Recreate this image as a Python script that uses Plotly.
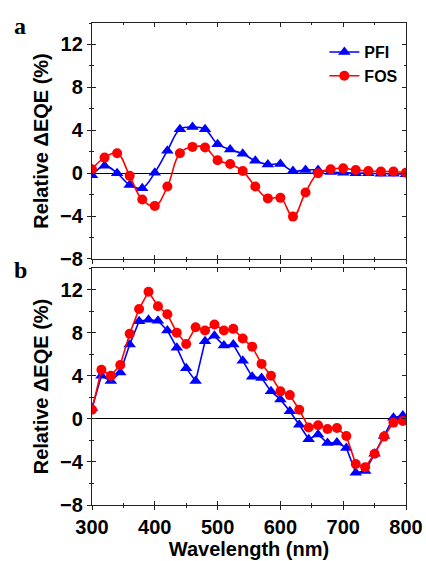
import plotly.graph_objects as go

# ---------------- data ----------------
wl_a = [300, 320, 340, 360, 380, 400, 420, 440, 460, 480, 500, 520, 540,
        560, 580, 600, 620, 640, 660, 680, 700, 720, 740, 760, 780, 800]
pfi_a = [-0.2, 0.7, 0.0, -1.1, -1.4, 0.05, 2.1, 4.1, 4.3, 4.1, 2.7, 2.2, 1.8,
         1.15, 0.8, 0.85, 0.2, 0.3, 0.3, 0.1, 0.05, 0.0, 0.0, -0.05, -0.05, -0.1]
fos_a = [0.37, 1.45, 1.85, -0.25, -2.45, -3.05, -1.25, 1.85, 2.45, 2.4, 1.2, 0.85, 0.2,
         -1.25, -2.35, -2.3, -4.05, -1.8, 0.0, 0.37, 0.45, 0.3, 0.2, 0.15, 0.15, 0.05]

wl_b = [300, 315, 330, 345, 360, 375, 390, 405, 420, 435, 450, 465, 480, 495, 510,
        525, 540, 555, 570, 585, 600, 615, 630, 645, 660, 675, 690, 705, 720, 735,
        750, 765, 780, 795]
pfi_b = [1.0, 4.0, 3.5, 4.3, 6.9, 9.05, 9.2, 9.1, 8.2, 6.6, 4.7, 3.5, 7.2, 7.7, 6.8,
         6.9, 5.4, 3.9, 3.8, 2.55, 1.8, 0.7, -0.55, -1.9, -1.45, -2.25, -2.2, -2.7, -5.0, -4.85,
         -3.25, -1.6, 0.1, 0.3]
fos_b = [0.84, 4.55, 4.0, 5.0, 7.9, 10.2, 11.8, 10.45, 9.7, 8.0, 6.95, 8.5, 8.2, 8.75, 8.2,
         8.35, 7.45, 6.7, 5.1, 4.0, 2.55, 2.2, 0.84, -0.8, -0.6, -0.95, -0.85, -1.6, -4.2, -4.5,
         -3.25, -1.65, -0.35, -0.2]

y_ticks = [-8, -4, 0, 4, 8, 12]
x_ticks = [300, 400, 500, 600, 700, 800]
series_names = ["PFI", "FOS"]
BLUE = "#0000FF"
RED = "#FF0000"

FONT = "Liberation Sans, Arial, sans-serif"

fig = go.Figure()

# panel a
fig.add_trace(go.Scatter(x=wl_a, y=pfi_a, name=series_names[0], mode="lines+markers",
                         line=dict(color=BLUE, width=1.6, shape="spline", smoothing=1.0),
                         marker=dict(symbol="triangle-up", size=11, color=BLUE),
                         xaxis="x", yaxis="y"))
fig.add_trace(go.Scatter(x=wl_a, y=fos_a, name=series_names[1], mode="lines+markers",
                         line=dict(color=RED, width=1.6, shape="spline", smoothing=1.2),
                         marker=dict(symbol="circle", size=10, color=RED),
                         xaxis="x", yaxis="y"))
# panel b
fig.add_trace(go.Scatter(x=wl_b, y=pfi_b, name=series_names[0], mode="lines+markers",
                         line=dict(color=BLUE, width=1.6),
                         marker=dict(symbol="triangle-up", size=11, color=BLUE),
                         xaxis="x2", yaxis="y2", showlegend=False))
fig.add_trace(go.Scatter(x=wl_b, y=fos_b, name=series_names[1], mode="lines+markers",
                         line=dict(color=RED, width=1.6),
                         marker=dict(symbol="circle", size=10, color=RED),
                         xaxis="x2", yaxis="y2", showlegend=False))
# dummy traces for overlay (inside-tick) axes
fig.add_trace(go.Scatter(x=[None], y=[None], xaxis="x3", yaxis="y3", showlegend=False, hoverinfo="skip"))
fig.add_trace(go.Scatter(x=[None], y=[None], xaxis="x4", yaxis="y4", showlegend=False, hoverinfo="skip"))

AX = "#222222"
tickfont = dict(family=FONT, size=20, color="black", weight="bold")
titlefont = dict(family=FONT, size=20, color="black", weight="bold")

def xax(domain_anchor, labels):
    return dict(range=[300, 800], tickmode="array", tickvals=x_ticks, automargin=False,
                showticklabels=labels, ticks="outside", ticklen=4, tickwidth=1.2, tickcolor=AX,
                minor=dict(dtick=50, ticks="outside", ticklen=2, tickwidth=1.2, tickcolor=AX),
                showline=True, linecolor=AX, linewidth=1.3, mirror=True,
                showgrid=False, zeroline=False, anchor=domain_anchor, tickfont=tickfont)

def yax(domain, anchor):
    return dict(range=[-8, 14], tickmode="array", tickvals=y_ticks, domain=domain, automargin=False,
                ticks="outside", ticklen=4, tickwidth=1.2, tickcolor=AX,
                minor=dict(dtick=2, ticks="outside", ticklen=2, tickwidth=1.2, tickcolor=AX),
                showline=True, linecolor=AX, linewidth=1.3, mirror=True,
                showgrid=False, zeroline=True, zerolinecolor="black", zerolinewidth=1.2,
                anchor=anchor, tickfont=tickfont,
                title=dict(text="Relative ΔEQE (%)", font=titlefont, standoff=6))

def x_in(over, anchor):
    return dict(range=[300, 800], tickmode="array", tickvals=x_ticks, overlaying=over,
                anchor=anchor, showticklabels=False, ticks="inside", ticklen=4, tickwidth=1.2,
                automargin=False,
                tickcolor=AX, minor=dict(dtick=50, ticks="inside", ticklen=2, tickwidth=1.2, tickcolor=AX),
                showline=False, mirror="ticks", showgrid=False, zeroline=False)

def y_in(over, anchor):
    return dict(range=[-8, 14], tickmode="array", tickvals=y_ticks, overlaying=over,
                anchor=anchor, showticklabels=False, ticks="inside", ticklen=4, tickwidth=1.2,
                automargin=False,
                tickcolor=AX, minor=dict(dtick=2, ticks="inside", ticklen=2, tickwidth=1.2, tickcolor=AX),
                showline=False, mirror="ticks", showgrid=False, zeroline=False)

dom_a = [0.5104, 1.0]
dom_b = [0.0, 0.4917]

xa = xax("y", False)
xb = xax("y2", True)
xb["title"] = dict(text="Wavelength (nm)", font=titlefont, standoff=4)

fig.update_layout(
    width=426, height=561,
    margin=dict(l=92, r=20, t=23, b=56, autoexpand=False),
    paper_bgcolor="white", plot_bgcolor="white",
    xaxis=xa, yaxis=yax(dom_a, "x"),
    xaxis2=xb, yaxis2=yax(dom_b, "x2"),
    xaxis3=x_in("x", "y3"), yaxis3=y_in("y", "x3"),
    xaxis4=x_in("x2", "y4"), yaxis4=y_in("y2", "x4"),
    legend=dict(x=0.74, y=0.975, xanchor="left", yanchor="top",
                font=dict(family=FONT, size=16, color="black", weight="bold"),
                bgcolor="rgba(0,0,0,0)", tracegroupgap=0, itemwidth=30),
    showlegend=True,
    annotations=[
        dict(text="a", x=-0.255, y=1.025, xref="paper", yref="paper", xanchor="left", yanchor="top",
             showarrow=False, font=dict(family="Liberation Serif, Times New Roman, serif", size=24,
                                        color="black", weight="bold")),
        dict(text="b", x=-0.255, y=0.518, xref="paper", yref="paper", xanchor="left", yanchor="top",
             showarrow=False, font=dict(family="Liberation Serif, Times New Roman, serif", size=24,
                                        color="black", weight="bold")),
    ],
)

fig.write_html("out.html")
